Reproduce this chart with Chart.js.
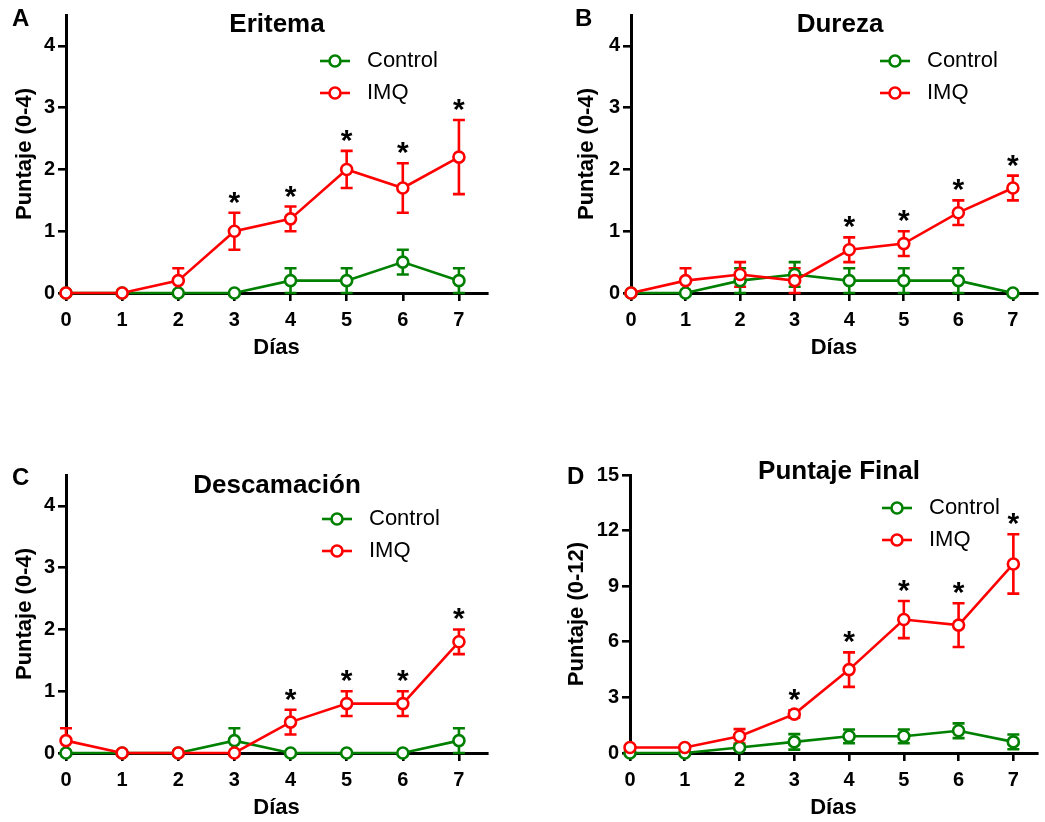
<!DOCTYPE html>
<html>
<head>
<meta charset="utf-8">
<script src="https://cdn.jsdelivr.net/npm/chart.js@4.4.0/dist/chart.umd.min.js"></script>
<style>
  html, body { margin: 0; padding: 0; background: #fff; overflow: hidden; }
  #wrap { position: relative; width: 1045px; height: 822px; }
  canvas { position: absolute; }
</style>
</head>
<body>
<div id="wrap">
  <canvas id="chartA" width="520" height="362" style="left:0;top:0"></canvas>
  <canvas id="chartB" width="525" height="362" style="left:520px;top:0"></canvas>
  <canvas id="chartC" width="520" height="362" style="left:0;top:460px"></canvas>
  <canvas id="chartD" width="525" height="362" style="left:520px;top:460px"></canvas>
</div>
<script>
// days on the x axis
const days = [0, 1, 2, 3, 4, 5, 6, 7];

// A - Eritema
const eritemaControl    = [0, 0, 0, 0, 0.2, 0.2, 0.5, 0.2];
const eritemaControlErr = [0, 0, 0, 0, 0.2, 0.2, 0.2, 0.2];
const eritemaImq        = [0, 0, 0.2, 1.0, 1.2, 2.0, 1.7, 2.2];
const eritemaImqErr     = [0, 0, 0.2, 0.3, 0.2, 0.3, 0.4, 0.6];
const eritemaStars      = [3, 4, 5, 6, 7];

// B - Dureza
const durezaControl    = [0, 0, 0.2, 0.3, 0.2, 0.2, 0.2, 0];
const durezaControlErr = [0, 0, 0.2, 0.2, 0.2, 0.2, 0.2, 0];
const durezaImq        = [0, 0.2, 0.3, 0.2, 0.7, 0.8, 1.3, 1.7];
const durezaImqErr     = [0, 0.2, 0.2, 0.2, 0.2, 0.2, 0.2, 0.2];
const durezaStars      = [4, 5, 6, 7];

// C - Descamacion
const descamControl    = [0, 0, 0, 0.2, 0, 0, 0, 0.2];
const descamControlErr = [0, 0, 0, 0.2, 0, 0, 0, 0.2];
const descamImq        = [0.2, 0, 0, 0, 0.5, 0.8, 0.8, 1.8];
const descamImqErr     = [0.2, 0, 0, 0, 0.2, 0.2, 0.2, 0.2];
const descamStars      = [4, 5, 6, 7];

// D - Puntaje final
const finalControl    = [0, 0, 0.3, 0.6, 0.9, 0.9, 1.2, 0.6];
const finalControlErr = [0, 0, 0.1, 0.42, 0.37, 0.37, 0.4, 0.4];
const finalImq        = [0.3, 0.3, 0.9, 2.1, 4.5, 7.2, 6.9, 10.2];
const finalImqErr     = [0.1, 0.1, 0.39, 0.2, 0.93, 1.0, 1.18, 1.6];
const finalStars      = [3, 4, 5, 6, 7];

const ticks04 = [0, 1, 2, 3, 4];
const ticks015 = [0, 3, 6, 9, 12, 15];

const GREEN = "#008000";
const RED = "#ff0000";
const FONT = "'Liberation Sans', Arial, sans-serif";

Chart.defaults.font.family = FONT;
Chart.defaults.color = "#000";

// error bars, asterisks, titles and legends
const panelDecor = {
  id: "panelDecor",
  beforeDatasetsDraw(chart) {
    const ctx = chart.ctx;
    const ys = chart.scales.y;
    ctx.save();
    chart.data.datasets.forEach((ds, i) => {
      const meta = chart.getDatasetMeta(i);
      ctx.strokeStyle = ds.borderColor;
      ctx.lineWidth = 2.6;
      meta.data.forEach((pt, j) => {
        const e = ds.errors[j];
        if (!e) return;
        const v = ds.data[j].y;
        const top = ys.getPixelForValue(v + e);
        const bot = ys.getPixelForValue(v - e);
        ctx.beginPath();
        ctx.moveTo(pt.x, top); ctx.lineTo(pt.x, bot);
        ctx.moveTo(pt.x - 6, top); ctx.lineTo(pt.x + 6, top);
        ctx.moveTo(pt.x - 6, bot); ctx.lineTo(pt.x + 6, bot);
        ctx.stroke();
      });
    });
    ctx.restore();
  },
  afterDraw(chart, args, o) {
    const ctx = chart.ctx;
    const xs = chart.scales.x, ys = chart.scales.y;
    ctx.save();
    ctx.fillStyle = "#000";
    ctx.textBaseline = "middle";

    ctx.font = "bold 24px " + FONT;
    ctx.textAlign = "left";
    ctx.fillText(o.letter, o.letterX, o.letterY);

    ctx.font = "bold 26px " + FONT;
    ctx.textAlign = "center";
    ctx.fillText(o.title, o.titleX, o.titleY);

    // asterisks above the IMQ error bars
    const imq = chart.data.datasets[1];
    ctx.font = "bold 30px " + FONT;
    ctx.textBaseline = "alphabetic";
    const m = ctx.measureText("*");
    const mid = (m.actualBoundingBoxAscent - m.actualBoundingBoxDescent) / 2;
    o.stars.forEach(d => {
      const j = days.indexOf(d);
      const top = ys.getPixelForValue(imq.data[j].y + imq.errors[j]);
      ctx.fillText("*", xs.getPixelForValue(d), top - 15 + mid);
    });

    // legend
    ctx.textBaseline = "middle";
    ctx.textAlign = "left";
    ctx.font = "22px " + FONT;
    chart.data.datasets.forEach((ds, i) => {
      const y = o.legendY + i * 32;
      ctx.strokeStyle = ds.borderColor;
      ctx.lineWidth = 2.6;
      ctx.beginPath();
      ctx.moveTo(o.legendX, y); ctx.lineTo(o.legendX + 30, y);
      ctx.stroke();
      ctx.beginPath();
      ctx.arc(o.legendX + 15, y, 5.5, 0, Math.PI * 2);
      ctx.fillStyle = "#fff";
      ctx.fill();
      ctx.stroke();
      ctx.fillStyle = "#000";
      ctx.fillText(ds.label, o.legendX + 47, y);
    });
    ctx.restore();
  }
};

function makeChart(id, p) {
  const series = (vals) => days.map((d, i) => ({ x: d, y: vals[i] }));
  return new Chart(document.getElementById(id), {
    type: "line",
    data: {
      datasets: [
        {
          label: "Control", data: series(p.control), errors: p.controlErr,
          borderColor: GREEN, pointBorderColor: GREEN, pointBackgroundColor: "#fff",
          clip: false, order: 1
        },
        {
          label: "IMQ", data: series(p.imq), errors: p.imqErr,
          borderColor: RED, pointBorderColor: RED, pointBackgroundColor: "#fff",
          clip: false, order: 0
        }
      ]
    },
    options: {
      responsive: false,
      animation: false,
      events: [],
      layout: { padding: { left: p.padLeft, right: p.padRight, top: 14, bottom: 0 } },
      elements: {
        line: { borderWidth: 2.6, tension: 0 },
        point: { radius: 5.5, borderWidth: 2.6, hoverRadius: 5.5 }
      },
      plugins: {
        legend: { display: false },
        tooltip: { enabled: false },
        panelDecor: p.decor
      },
      scales: {
        x: {
          type: "linear",
          min: 0,
          max: p.xMax,
          afterBuildTicks: (s) => { s.ticks = days.map(v => ({ value: v })); },
          afterFit: (s) => { s.height = 69; },
          grid: { display: true, drawOnChartArea: false, drawTicks: true, tickLength: 8, color: "#000", lineWidth: 2.6 },
          border: { display: true, color: "#000", width: 3 },
          ticks: { color: "#000", font: { size: 20, weight: "bold" }, padding: 7, maxRotation: 0 },
          title: { display: true, text: "Días", color: "#000", font: { size: 22, weight: "bold" }, padding: { top: 0, bottom: 1 } }
        },
        y: {
          min: 0,
          max: p.yMax,
          afterBuildTicks: (s) => { s.ticks = p.yTicks.map(v => ({ value: v })); },
          afterFit: (s) => { s.width = p.yAxisWidth; },
          grid: { display: true, drawOnChartArea: false, drawTicks: true, tickLength: 8, color: "#000", lineWidth: 2.6 },
          border: { display: true, color: "#000", width: 3 },
          ticks: { color: "#000", font: { size: 20, weight: "bold" }, padding: 3 },
          title: { display: true, text: p.yTitle, color: "#000", font: { size: 22, weight: "bold" }, padding: { top: 11.8, bottom: 0 } }
        }
      }
    },
    plugins: [panelDecor]
  });
}

makeChart("chartA", {
  control: eritemaControl, controlErr: eritemaControlErr,
  imq: eritemaImq, imqErr: eritemaImqErr,
  yMax: 4.5, yTicks: ticks04, yTitle: "Puntaje (0-4)",
  xMax: 7.5, padLeft: 0, padRight: 33, yAxisWidth: 66,
  decor: { letter: "A", letterX: 12, letterY: 19, title: "Eritema", titleX: 277, titleY: 25,
           legendX: 320, legendY: 61, stars: eritemaStars }
});

makeChart("chartB", {
  control: durezaControl, controlErr: durezaControlErr,
  imq: durezaImq, imqErr: durezaImqErr,
  yMax: 4.5, yTicks: ticks04, yTitle: "Puntaje (0-4)",
  xMax: 7.44, padLeft: 42, padRight: 0, yAxisWidth: 69,
  decor: { letter: "B", letterX: 55, letterY: 19, title: "Dureza", titleX: 320, titleY: 25,
           legendX: 360, legendY: 61, stars: durezaStars }
});

makeChart("chartC", {
  control: descamControl, controlErr: descamControlErr,
  imq: descamImq, imqErr: descamImqErr,
  yMax: 4.5, yTicks: ticks04, yTitle: "Puntaje (0-4)",
  xMax: 7.5, padLeft: 0, padRight: 33, yAxisWidth: 66,
  decor: { letter: "C", letterX: 12, letterY: 18, title: "Descamación", titleX: 277, titleY: 26,
           legendX: 322, legendY: 59, stars: descamStars }
});

makeChart("chartD", {
  control: finalControl, controlErr: finalControlErr,
  imq: finalImq, imqErr: finalImqErr,
  yMax: 15, yTicks: ticks015, yTitle: "Puntaje (0-12)",
  xMax: 7.43, padLeft: 32, padRight: 0, yAxisWidth: 78,
  decor: { letter: "D", letterX: 47, letterY: 17, title: "Puntaje Final", titleX: 319, titleY: 12,
           legendX: 362, legendY: 48, stars: finalStars }
});
</script>
</body>
</html>
